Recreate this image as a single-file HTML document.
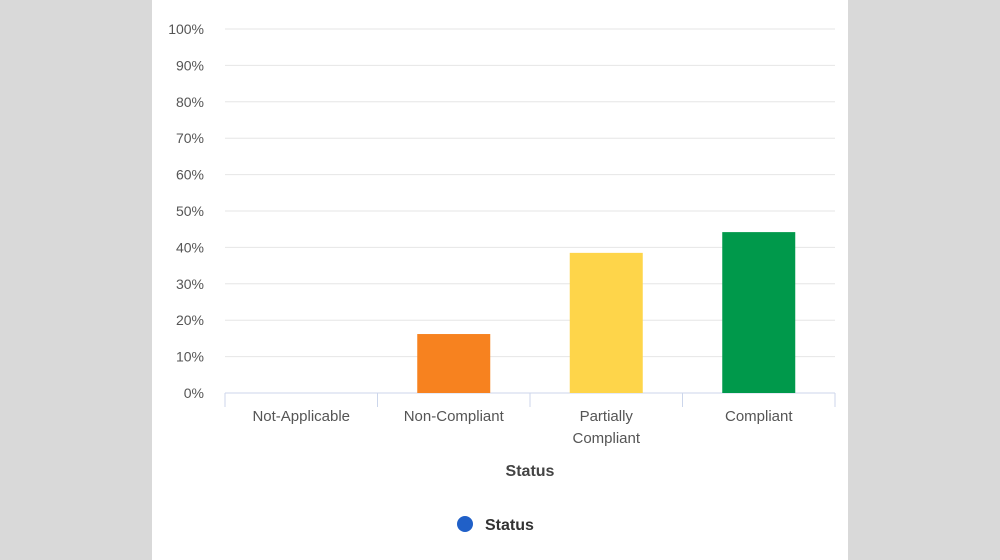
<!DOCTYPE html>
<html><head><meta charset="utf-8"><style>
html,body{margin:0;padding:0;width:1000px;height:560px;overflow:hidden;background:#d9d9d9;font-family:"Liberation Sans",sans-serif}
#panel{position:absolute;left:152px;top:0;width:696px;height:560px;background:#fff}
svg{position:absolute;left:0;top:0}
</style></head><body>
<div id="panel"></div>
<svg id="chart" width="1000" height="560"></svg>
<script>
const categories=[["Not-Applicable"],["Non-Compliant"],["Partially","Compliant"],["Compliant"]];
const values=[0,16.2,38.5,44.2];
const colors=["#7cb5ec","#f7821f","#fed54a","#00994b"];
const tickValues=[0,10,20,30,40,50,60,70,80,90,100];
const NS="http://www.w3.org/2000/svg";
const svg=document.getElementById('chart');
const x0=225,x1=835,y0=393,y100=29;
const y=v=>y0-(v/100)*(y0-y100);
const band=(x1-x0)/categories.length;
const xc=i=>x0+band*(i+0.5);
function mk(t,a){const e=document.createElementNS(NS,t);for(const k in a)e.setAttribute(k,a[k]);svg.appendChild(e);return e;}
tickValues.forEach(v=>{
  if(v>0){const g=mk('line',{x1:x0,x2:x1,y1:y(v),y2:y(v),stroke:'#e6e6e6','stroke-width':1});
  
  }
  const t=mk('text',{x:204,y:y(v)+5,'text-anchor':'end','font-size':14,fill:'#555'});
  t.textContent=v+'%';
  
  
});
const ax=mk('line',{x1:x0,x2:x1,y1:y0,y2:y0,stroke:'#ccd6eb','stroke-width':1});


for(let i=0;i<=categories.length;i++){
  const tk=mk('line',{x1:x0+band*i,x2:x0+band*i,y1:y0,y2:y0+14,stroke:'#ccd6eb','stroke-width':1});
  
  
}
values.forEach((v,i)=>{
  const w=73;
  const r=mk('rect',{x:xc(i)-w/2,y:y(v),width:w,height:y0-y(v),fill:colors[i]});
  
  
  const t=mk('text',{x:xc(i),y:421,'text-anchor':'middle','font-size':15,fill:'#555'});
  
  
  categories[i].forEach((s,j)=>{const ts=document.createElementNS(NS,'tspan');ts.setAttribute('x',xc(i));ts.setAttribute('dy',j?22:0);ts.textContent=s;t.appendChild(ts);});
});
const xt=mk('text',{x:530,y:476,'text-anchor':'middle','font-size':16,'font-weight':'bold',fill:'#444'});
xt.textContent='Status';


const lc=mk('circle',{cx:465,cy:524,r:8,fill:'#2060c8'});


const lt=mk('text',{x:485,y:530,'font-size':16,'font-weight':'bold',fill:'#333'});
lt.textContent='Status';


</script>
</body></html>
